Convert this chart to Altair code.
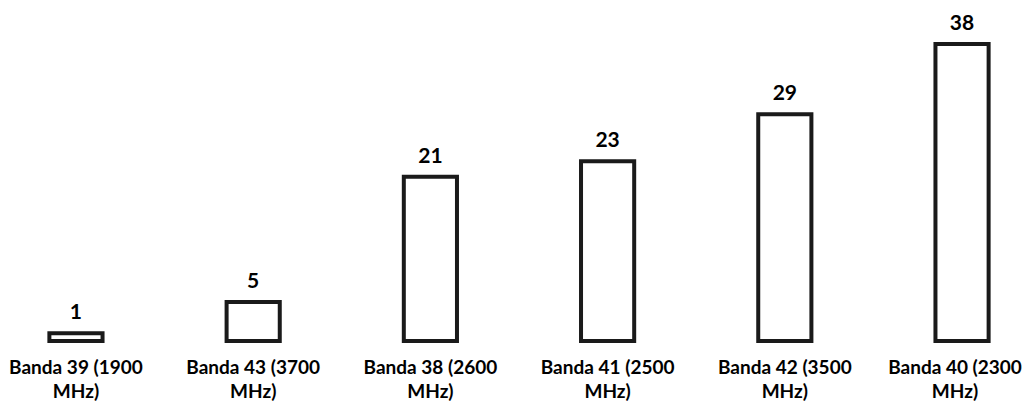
import altair as alt
import pandas as pd

bands = ["Banda 39 (1900 MHz)", "Banda 43 (3700 MHz)", "Banda 38 (2600 MHz)",
         "Banda 41 (2500 MHz)", "Banda 42 (3500 MHz)", "Banda 40 (2300 MHz)"]
counts = [1, 5, 21, 23, 29, 38]

df = pd.DataFrame({"band": bands, "count": counts})

FONT = "Lato"
last = bands[-1]

x = alt.X("band:N", sort=bands, title=None,
          scale=alt.Scale(paddingInner=0.70, paddingOuter=0.2335, range=[0, 1022]),
          axis=alt.Axis(domain=False, ticks=False, grid=False, labelAngle=0,
                        labelFont=FONT, labelFontSize=19, labelFontWeight="bold",
                        labelColor="#000000", labelPadding=17, labelLineHeight=24,
                        labelLimit=300,
                        labelOffset={"condition": {"test": f"datum.value == '{last}'", "value": -7},
                                     "value": 0},
                        labelExpr="[substring(datum.value, 0, indexof(datum.value, ' MHz')), 'MHz)']"))
y = alt.Y("count:Q", title=None, scale=alt.Scale(domain=[0, 38], nice=False),
          axis=None)

bars = alt.Chart(df).mark_bar(fill="#ffffff", stroke="#1a1a1a", strokeWidth=4).encode(x=x, y=y)
text = alt.Chart(df).mark_text(font=FONT, fontSize=21, fontWeight="bold", color="#000000",
                               baseline="bottom", dy=-10).encode(x=x, y=y, text="count:Q")

chart = alt.layer(bars, text).properties(
    width=1017, height=297,
    autosize=alt.AutoSizeParams(type="none"),
    padding={"left": 0, "right": 0, "top": 36, "bottom": 66},
    background="#ffffff",
).configure(view=alt.ViewConfig(stroke=None))

chart.save("out.html", embed_options={"renderer": "svg", "actions": False})
